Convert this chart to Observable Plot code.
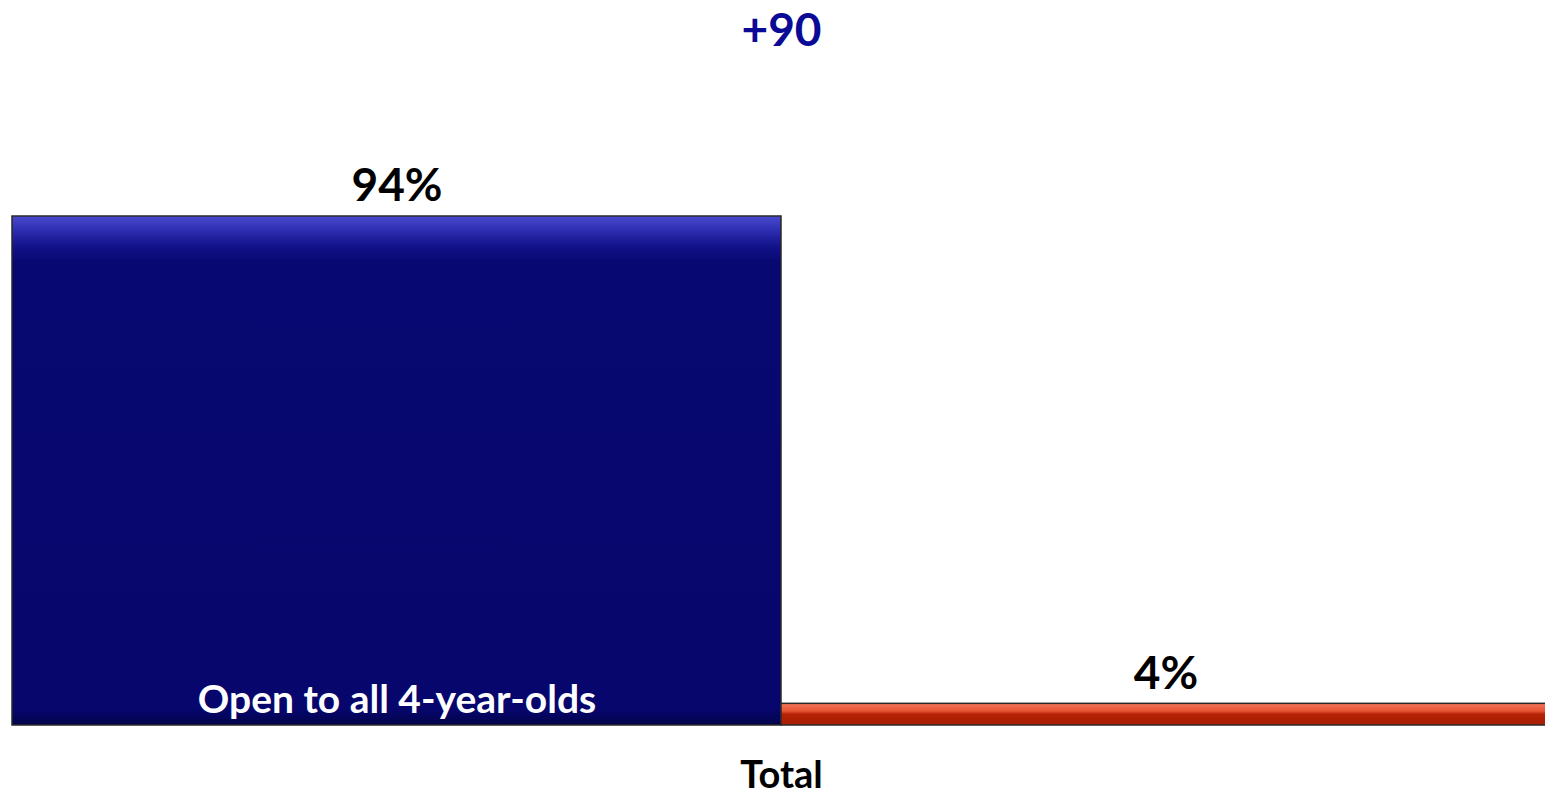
<!DOCTYPE html>
<html>
<head>
<meta charset="utf-8">
<script src="https://cdn.jsdelivr.net/npm/d3@7"></script>
<script src="https://cdn.jsdelivr.net/npm/@observablehq/plot@0.6"></script>
<style>
  html, body { margin: 0; padding: 0; background: #fff; }
  #chart { width: 1545px; height: 795px; }
</style>
</head>
<body>
<div id="chart"></div>
<script>
const categories = ["Open to all 4-year-olds", "Other"];
const values = [94, 4];
const valueLabels = ["94%", "4%"];
const groupLabel = "Total";
const diffLabel = "+90";
const fills = ["url(#gBlue)", "url(#gRed)"];

const data = categories.map((c, i) => ({cat: c, value: values[i], label: valueLabels[i], fill: fills[i]}));

const defs = () => {
  const ns = "http://www.w3.org/2000/svg";
  const d = document.createElementNS(ns, "defs");
  d.innerHTML = `
    <linearGradient id="gBlue" x1="0" y1="0" x2="0" y2="1">
      <stop offset="0" stop-color="#4a4ad0"/>
      <stop offset="0.025" stop-color="#3030b4"/>
      <stop offset="0.06" stop-color="#12128a"/>
      <stop offset="0.09" stop-color="#080872"/>
      <stop offset="0.97" stop-color="#06066c"/>
      <stop offset="1" stop-color="#03034a"/>
    </linearGradient>
    <linearGradient id="gRed" x1="0" y1="0" x2="0" y2="1">
      <stop offset="0" stop-color="#f4755a"/>
      <stop offset="0.35" stop-color="#e85436"/>
      <stop offset="0.5" stop-color="#b42204"/>
      <stop offset="1" stop-color="#a81e02"/>
    </linearGradient>`;
  return d;
};

const chart = Plot.plot({
  width: 1545,
  height: 795,
  marginTop: 0, marginBottom: 0, marginLeft: 0, marginRight: 0,
  style: {fontFamily: "Lato, 'Open Sans', sans-serif", background: "#fff"},
  x: {domain: categories, range: [12, 1550], padding: 0, axis: null},
  y: {domain: [0, 100], range: [725, 183.5], axis: null},
  marks: [
    defs,
    Plot.barY(data, {x: "cat", y: "value", fill: "fill", stroke: "#2a2a2a", strokeWidth: 1.5, inset: 0}),
    Plot.text(data, {x: "cat", y: "value", text: "label", dy: -30, fontSize: 46, fontWeight: "bold", fill: "#000"}),
    Plot.text([categories[0]], {x: d => d, y: 0, text: d => d, dy: -25, fontSize: 39, fontWeight: "bold", fill: "#fff"}),
    Plot.text([groupLabel], {frameAnchor: "bottom", text: d => d, dx: 8.5, dy: -8, fontSize: 38, fontWeight: "bold", fill: "#000"}),
    Plot.text([diffLabel], {frameAnchor: "top", text: d => d, dx: 8.5, dy: 13, fontSize: 46, fontWeight: "bold", fill: "#0a0a96"})
  ]
});
document.getElementById("chart").appendChild(chart);
</script>
</body>
</html>
